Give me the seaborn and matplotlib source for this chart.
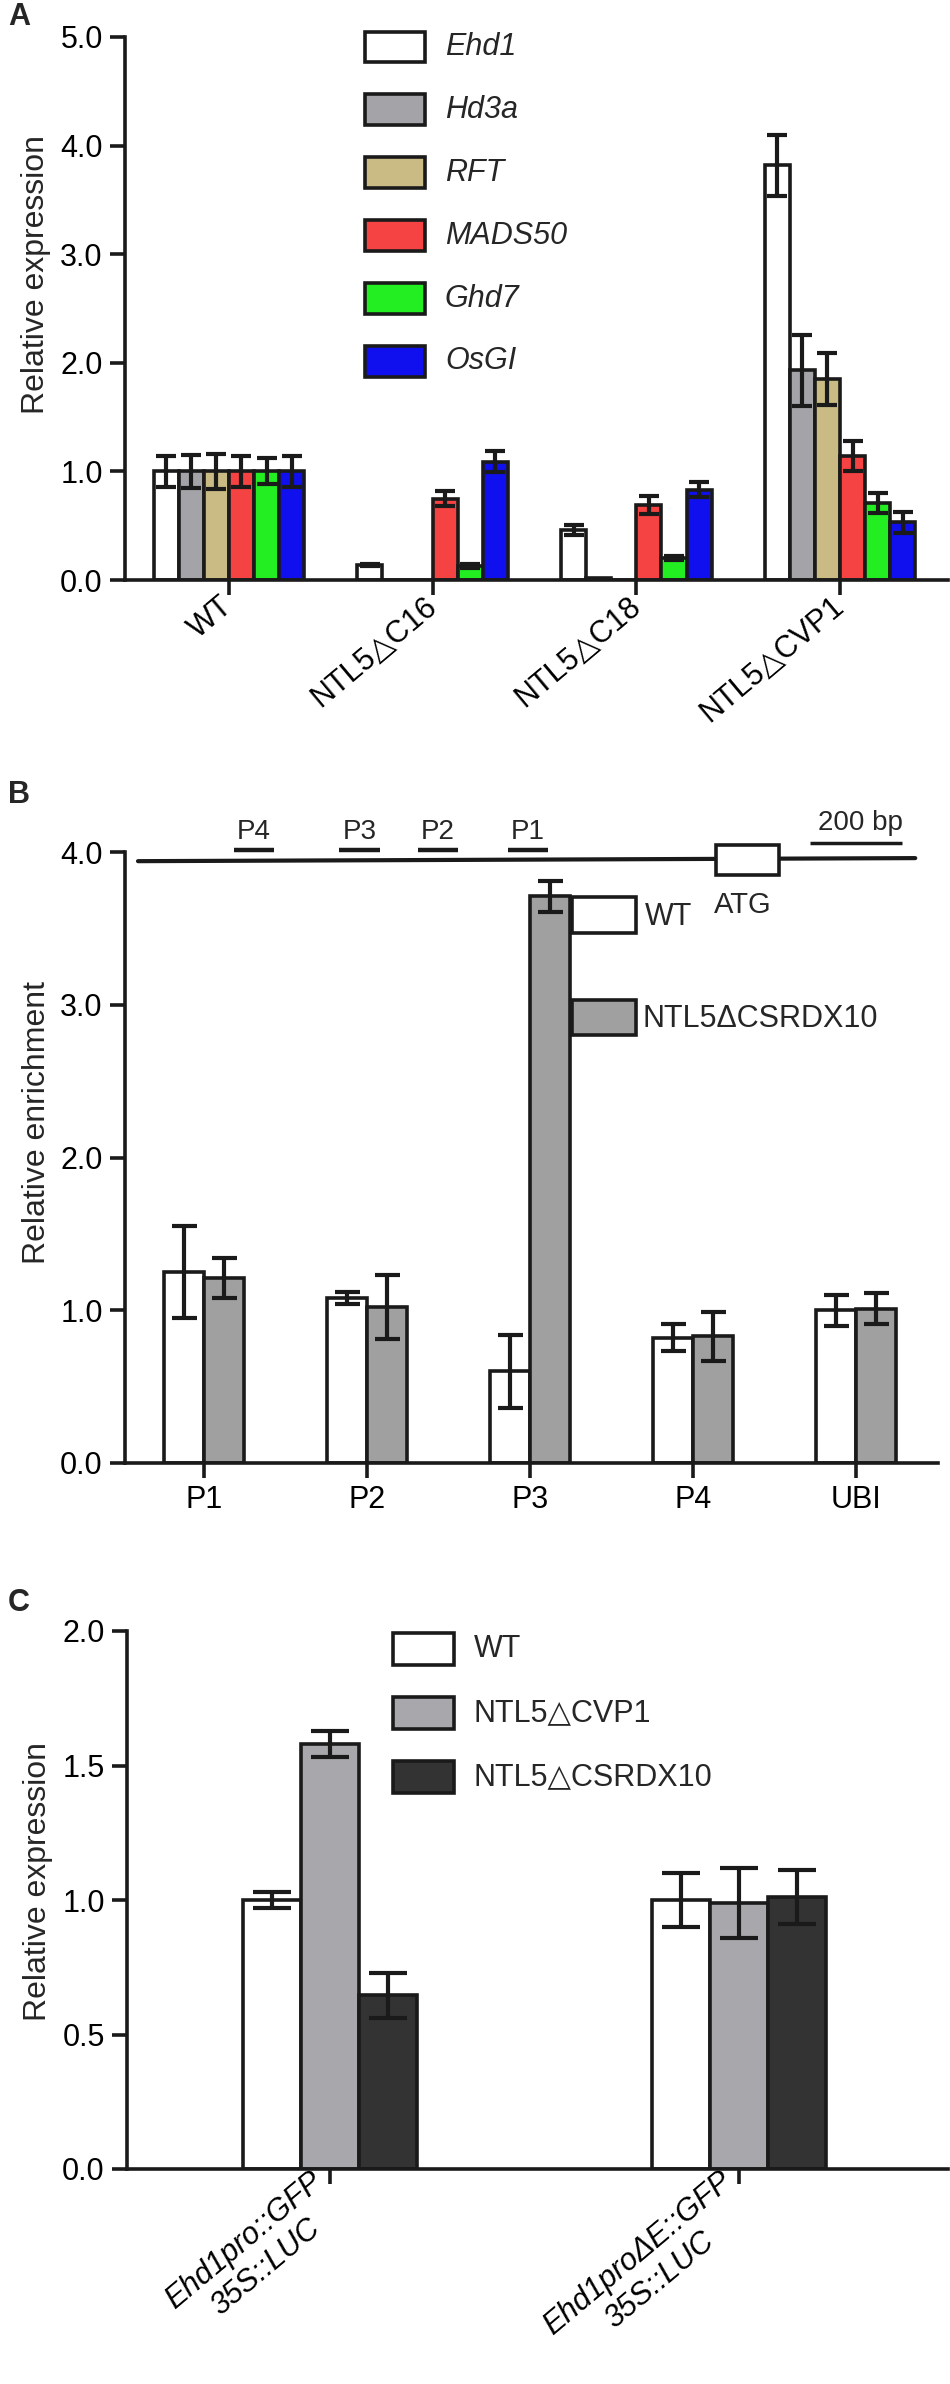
import matplotlib
matplotlib.use("Agg")
import matplotlib.pyplot as plt
from matplotlib.patches import Rectangle
from matplotlib.container import BarContainer
from matplotlib.ticker import FormatStrFormatter, MultipleLocator
import seaborn as sns
import pandas as pd

# ---------------- data ----------------
# Panel A
samples_A = ['WT', 'NTL5△C16', 'NTL5△C18', 'NTL5△CVP1']
genes_A = ['Ehd1', 'Hd3a', 'RFT', 'MADS50', 'Ghd7', 'OsGI']
colors_A = ['#ffffff', '#a3a3a8', '#c9bb83', '#f54242', '#22ee22', '#1010ee']
ehd1 = [1.00, 0.14, 0.46, 3.82]
hd3a = [1.00, 0.00, 0.02, 1.93]
rft = [1.00, 0.00, 0.00, 1.85]
mads50 = [1.00, 0.75, 0.69, 1.14]
ghd7 = [1.00, 0.13, 0.20, 0.71]
osgi = [1.00, 1.09, 0.83, 0.53]
ehd1_err = [0.14, 0.01, 0.05, 0.28]
hd3a_err = [0.15, 0.00, 0.00, 0.33]
rft_err = [0.16, 0.00, 0.00, 0.24]
mads50_err = [0.14, 0.07, 0.08, 0.14]
ghd7_err = [0.12, 0.02, 0.02, 0.09]
osgi_err = [0.14, 0.10, 0.07, 0.10]

# Panel B
targets_B = ['P1', 'P2', 'P3', 'P4', 'UBI']
lines_B = ['WT', 'NTL5ΔCSRDX10']
colors_B = ['#ffffff', '#a0a0a0']
wt_B = [1.25, 1.08, 0.60, 0.82, 1.00]
wt_B_err = [0.30, 0.04, 0.24, 0.09, 0.10]
csrdx_B = [1.21, 1.02, 3.71, 0.83, 1.01]
csrdx_B_err = [0.13, 0.21, 0.10, 0.16, 0.10]
primers_B = ['P4', 'P3', 'P2', 'P1']

# Panel C
constructs_C = ['Ehd1pro::GFP\n35S::LUC', 'Ehd1proΔE::GFP\n35S::LUC']
lines_C = ['WT', 'NTL5△CVP1', 'NTL5△CSRDX10']
colors_C = ['#ffffff', '#a8a8ac', '#333333']
wt_C = [1.00, 1.00]
wt_C_err = [0.03, 0.10]
cvp1_C = [1.58, 0.99]
cvp1_C_err = [0.05, 0.13]
csrdx_C = [0.645, 1.01]
csrdx_C_err = [0.085, 0.10]

# ---------------- style ----------------
sns.set_theme(style='ticks')
plt.rcParams['font.family'] = ['Liberation Sans', 'DejaVu Sans']
plt.rcParams['font.size'] = 22
EDGE = '#1a1a1a'
LW = 2.6

W, H = 950, 2384
fig = plt.figure(figsize=(W / 100, H / 100), dpi=100)


def px_axes(l, t, r, b):
    return fig.add_axes([l / W, 1 - b / H, (r - l) / W, (b - t) / H])


def long_df(cats, groups, series, cat_name, grp_name):
    rows = []
    for g, vals in zip(groups, series):
        for c, v in zip(cats, vals):
            rows.append({cat_name: c, grp_name: g, 'value': v})
    return pd.DataFrame(rows)


def draw_bars(ax, df, cat_name, grp_name, cats, groups, colors, errs, width, capsize):
    sns.barplot(data=df, x=cat_name, y='value', hue=grp_name, order=cats,
                hue_order=groups, palette=colors, width=width, errorbar=None,
                edgecolor=EDGE, linewidth=LW, saturation=1, legend=False, ax=ax)
    conts = [c for c in ax.containers if isinstance(c, BarContainer)]
    for hi, cont in enumerate(conts):
        for bar in list(cont.patches):
            xc = bar.get_x() + bar.get_width() / 2
            ci = int(round(xc))
            e = errs[hi][ci]
            if e > 0:
                ax.errorbar(xc, bar.get_height(), yerr=e, fmt='none', ecolor=EDGE,
                            elinewidth=3, capsize=capsize, capthick=3, zorder=5)


def style_axes(ax, ymax, ystep):
    sns.despine(ax=ax)
    for s in ('left', 'bottom'):
        ax.spines[s].set_linewidth(LW)
        ax.spines[s].set_color(EDGE)
    ax.tick_params(axis='both', width=LW, length=11, labelsize=22, color=EDGE,
                   labelcolor='black', pad=5)
    ax.set_ylim(0, ymax)
    ax.yaxis.set_major_locator(MultipleLocator(ystep))
    ax.yaxis.set_major_formatter(FormatStrFormatter('%.1f'))
    ax.set_xlabel('')


def manual_legend(ax, labels, colors, x0, w, yc0, step, h, tx, italic=False):
    for i, (lab, col) in enumerate(zip(labels, colors)):
        yc = yc0 - i * step
        ax.add_patch(Rectangle((x0, yc - h / 2), w, h, transform=ax.transAxes,
                               facecolor=col, edgecolor=EDGE, linewidth=LW,
                               clip_on=False, zorder=6))
        ax.text(tx, yc, lab, transform=ax.transAxes, ha='left', va='center',
                fontsize=22, fontstyle='italic' if italic else 'normal')


# ---------------- Panel A ----------------
axA = px_axes(125, 37, 948, 580)
dfA = long_df(samples_A, genes_A, [ehd1, hd3a, rft, mads50, ghd7, osgi], 'sample', 'gene')
draw_bars(axA, dfA, 'sample', 'gene', samples_A, genes_A, colors_A,
          [ehd1_err, hd3a_err, rft_err, mads50_err, ghd7_err, osgi_err], 0.74, 7)
style_axes(axA, 5.0, 1.0)
axA.set_xlim(-0.51, 3.53)
axA.set_ylabel('Relative expression', fontsize=23)
axA.yaxis.set_label_coords(-0.09, 0.563)
for lab in axA.get_xticklabels():
    lab.set_rotation(40)
    lab.set_ha('right')
    lab.set_va('center')
    lab.set_rotation_mode('anchor')
manual_legend(axA, genes_A, colors_A, 0.2916, 0.0729, 0.9816, 0.1158, 0.057, 0.3888, italic=True)

# ---------------- Panel B ----------------
axB = px_axes(125, 852, 938, 1463)
dfB = long_df(targets_B, lines_B, [wt_B, csrdx_B], 'target', 'line')
draw_bars(axB, dfB, 'target', 'line', targets_B, lines_B, colors_B,
          [wt_B_err, csrdx_B_err], 0.49, 9)
style_axes(axB, 4.0, 1.0)
axB.set_xlim(-0.485, 4.503)
axB.set_ylabel('Relative enrichment', fontsize=23)
axB.yaxis.set_label_coords(-0.09, 0.558)
for lab in axB.get_xticklabels():
    lab.set_rotation(0)
    lab.set_ha('center')

# gene diagram
tr = axB.transAxes
axB.plot([0.016, 0.972], [0.985, 0.990], transform=tr, color=EDGE, lw=3, clip_on=False, zorder=4)
primer_x = [(0.134, 0.183), (0.263, 0.314), (0.360, 0.410), (0.471, 0.520)]
for name, (xa, xb) in zip(primers_B, primer_x):
    axB.plot([xa, xb], [1.003, 1.003], transform=tr, color=EDGE, lw=3.2,
             clip_on=False, solid_capstyle='butt')
    axB.text((xa + xb) / 2, 1.012, name, transform=tr, ha='center', va='bottom', fontsize=20)
axB.add_patch(Rectangle((0.727, 0.962), 0.077, 0.049, transform=tr, facecolor='white',
                        edgecolor=EDGE, linewidth=LW, clip_on=False, zorder=6))
axB.text(0.760, 0.913, 'ATG', transform=tr, ha='center', va='center', fontsize=21)
axB.plot([0.843, 0.956], [1.015, 1.015], transform=tr, color=EDGE, lw=2.5,
         clip_on=False, solid_capstyle='butt')
axB.text(0.904, 1.027, '200 bp', transform=tr, ha='center', va='bottom', fontsize=20)
# legend B
axB.add_patch(Rectangle((0.550, 0.868), 0.078, 0.058, transform=tr, facecolor=colors_B[0],
                        edgecolor=EDGE, linewidth=LW, clip_on=False, zorder=6))
axB.text(0.640, 0.893, lines_B[0], transform=tr, ha='left', va='center', fontsize=22)
axB.add_patch(Rectangle((0.550, 0.700), 0.078, 0.058, transform=tr, facecolor=colors_B[1],
                        edgecolor=EDGE, linewidth=LW, clip_on=False, zorder=6))
axB.text(0.6365, 0.726, lines_B[1], transform=tr, ha='left', va='center', fontsize=22)

# ---------------- Panel C ----------------
axC = px_axes(127, 1631, 948, 2169)
dfC = long_df(constructs_C, lines_C, [wt_C, cvp1_C, csrdx_C], 'construct', 'line')
draw_bars(axC, dfC, 'construct', 'line', constructs_C, lines_C, colors_C,
          [wt_C_err, cvp1_C_err, csrdx_C_err], 0.425, 14)
style_axes(axC, 2.0, 0.5)
axC.set_xlim(-0.496, 1.511)
axC.set_ylabel('Relative expression', fontsize=23)
axC.yaxis.set_label_coords(-0.09, 0.535)
for lab in axC.get_xticklabels():
    lab.set_rotation(40)
    lab.set_ha('right')
    lab.set_va('center')
    lab.set_rotation_mode('anchor')
    lab.set_multialignment('center')
    lab.set_fontstyle('italic')
manual_legend(axC, lines_C, colors_C, 0.3237, 0.0743, 0.9665, 0.119, 0.0595, 0.4224)

# panel letters
fig.text(8 / W, 1 - 17 / H, 'A', fontsize=22, fontweight='bold', ha='left', va='center')
fig.text(8 / W, 1 - 795 / H, 'B', fontsize=22, fontweight='bold', ha='left', va='center')
fig.text(8 / W, 1 - 1603 / H, 'C', fontsize=22, fontweight='bold', ha='left', va='center')

fig.savefig('out.png', dpi=100, facecolor='white')
